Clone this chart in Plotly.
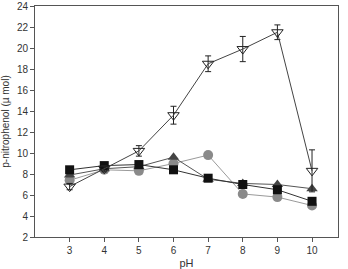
import plotly.graph_objects as go

ph = [3, 4, 5, 6, 7, 8, 9, 10]
open_tri = [6.8, 8.5, 10.2, 13.6, 18.5, 19.9, 21.5, 8.3]
open_tri_err = [0.3, 0.3, 0.5, 0.85, 0.75, 1.2, 0.7, 2.0]
black_sq = [8.4, 8.8, 8.9, 8.4, 7.6, 7.0, 6.5, 5.4]
dark_tri = [7.9, 8.5, 8.7, 9.6, 7.5, 7.1, 7.0, 6.6]
grey_circ = [7.4, 8.4, 8.3, 9.0, 9.8, 6.1, 5.8, 5.0]

yticks = list(range(2, 25, 2))

fig = go.Figure()
fig.add_trace(go.Scatter(x=ph, y=grey_circ, mode="lines+markers",
                         line=dict(color="#9a9a9a", width=1),
                         marker=dict(symbol="circle", size=10, color="#8a8a8a",
                                     line=dict(width=0))))
fig.add_trace(go.Scatter(x=ph, y=dark_tri, mode="lines+markers",
                         line=dict(color="#555555", width=1),
                         marker=dict(symbol="triangle-up", size=10, color="#444444",
                                     line=dict(width=0))))
fig.add_trace(go.Scatter(x=ph, y=black_sq, mode="lines+markers",
                         line=dict(color="#333333", width=1),
                         marker=dict(symbol="square", size=9, color="#111111",
                                     line=dict(width=0))))
fig.add_trace(go.Scatter(x=ph, y=open_tri, mode="lines+markers",
                         line=dict(color="#444444", width=1),
                         error_y=dict(type="data", array=open_tri_err, color="#222222",
                                      thickness=1, width=3),
                         marker=dict(symbol="triangle-down-open", size=10, color="#222222",
                                     line=dict(width=1))))

fig.update_layout(
    width=348, height=269,
    margin=dict(l=35, r=10, t=6, b=32),
    paper_bgcolor="white", plot_bgcolor="white",
    showlegend=False,
    font=dict(family="Liberation Sans, Arial, sans-serif", size=10, color="#333333"),
)
fig.update_xaxes(range=[2, 10.75], tickvals=ph, ticktext=[str(v) for v in ph],
                 showgrid=False, zeroline=False, showline=True, linecolor="#555555",
                 linewidth=1, mirror=True, ticks="outside", ticklen=4, tickcolor="#555555",
                 automargin=False,
                 title=dict(text="pH", font=dict(size=11), standoff=20))
fig.update_yaxes(range=[2, 24], tickvals=yticks, ticktext=[str(v) for v in yticks],
                 showgrid=False, zeroline=False, showline=True, linecolor="#555555",
                 linewidth=1, mirror=True, ticks="outside", ticklen=4, tickcolor="#555555",
                 automargin=False,
                 title=dict(text="p-nitrophenol (µ mol)", font=dict(size=10), standoff=6))

fig.write_html("out.html")
